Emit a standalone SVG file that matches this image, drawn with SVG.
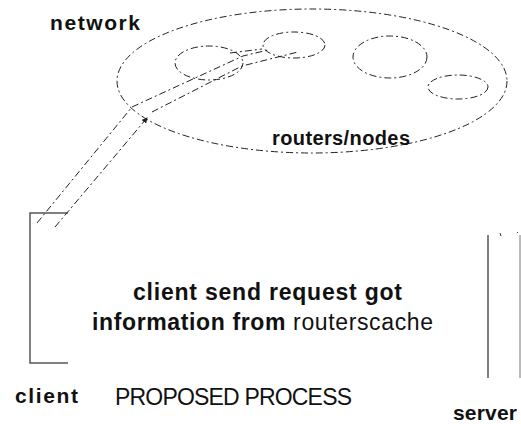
<svg xmlns="http://www.w3.org/2000/svg" width="521" height="424" viewBox="0 0 521 424">
<style>
.dash{fill:none;stroke:#222;stroke-width:1;stroke-dasharray:7 3 2 3}
.solid{fill:none;stroke:#555;stroke-width:1.5}
.b{font-family:"Liberation Sans",Arial,sans-serif;font-weight:bold;fill:#111}
.r{font-family:"Liberation Sans",Arial,sans-serif;font-weight:normal;fill:#111}
</style>
<defs>
<marker id="ah" markerWidth="6" markerHeight="6" refX="5" refY="3" orient="auto" markerUnits="userSpaceOnUse">
<path d="M0,0 L6,3 L0,6 z" fill="#222"/>
</marker>
</defs>
<rect width="521" height="424" fill="#fff"/>
<g id="network">
<ellipse class="dash" cx="312" cy="81" rx="195" ry="72"/>
<text class="b" x="50" y="30" font-size="21" textLength="90">network</text>
</g>
<g id="router1"><ellipse class="dash" cx="209" cy="63" rx="34" ry="17"/></g>
<g id="router2"><ellipse class="dash" cx="294" cy="45" rx="31" ry="13"/></g>
<g id="router3"><ellipse class="dash" cx="390" cy="57" rx="37" ry="21"/></g>
<g id="router4"><ellipse class="dash" cx="458" cy="87" rx="30" ry="12"/></g>
<g id="routers-label">
<text class="r" x="272" y="145" font-size="20" textLength="138" style="font-weight:600">routers/nodes</text>
</g>
<g id="client">
<path class="solid" d="M68,213 H30 V363 H68"/>
<text class="b" x="15" y="403" font-size="21" textLength="63">client</text>
</g>
<g id="server">
<line class="solid" x1="488" y1="235" x2="488" y2="378"/>
<line x1="520" y1="235" x2="520" y2="378" stroke="#777" stroke-width="1"/>
<line x1="500" y1="233" x2="501" y2="236" stroke="#333" stroke-width="1"/>
<line x1="517" y1="232" x2="518" y2="233" stroke="#333" stroke-width="1"/>
<text class="b" x="453" y="420" font-size="21" textLength="64">server</text>
</g>
<g id="connectors">
<path class="dash" d="M37,223 L132,107 L243,56 L268,50"/>
<path class="dash" d="M55,227 L147,118" marker-end="url(#ah)"/>
<path class="dash" d="M152,112 L242,66 L298,52"/>
<path class="dash" d="M230,53 L262,49"/>
</g>
<g id="caption">
<text class="b" x="133" y="300" font-size="23" textLength="269">client send request got</text>
<text class="b" x="92" y="330" font-size="23" textLength="341">information from <tspan style="font-weight:normal">routerscache</tspan></text>
<text class="r" x="115" y="405" font-size="23" textLength="237">PROPOSED PROCESS</text>
</g>
</svg>
